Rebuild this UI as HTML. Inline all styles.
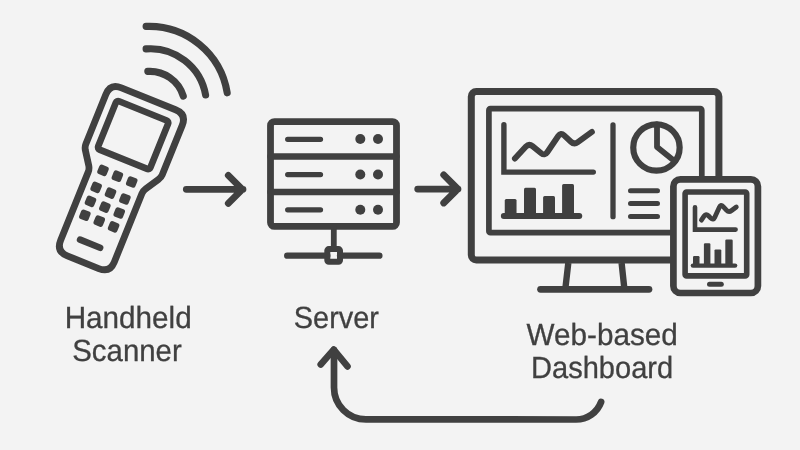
<!DOCTYPE html>
<html><head><meta charset="utf-8">
<style>
html,body{margin:0;padding:0;background:#f3f3f3;}
body{width:800px;height:450px;overflow:hidden;}
svg{display:block;will-change:transform;}
text{font-family:"Liberation Sans",sans-serif;fill:#404040;stroke:#404040;stroke-width:0.3px;text-rendering:geometricPrecision;}
</style></head>
<body>
<svg width="800" height="450" viewBox="0 0 800 450">
<rect width="800" height="450" fill="#f3f3f3"/>
<g fill="none" stroke="#404040" stroke-linecap="round" stroke-linejoin="round">

<!-- signal arcs -->
<path d="M146.1,26.4 A79,79 0 0 1 227.2,92.8" stroke-width="7.1"/>
<path d="M146.1,48.9 A56,56 0 0 1 205.6,95" stroke-width="7.1"/>
<path d="M147.8,71.4 A35,35 0 0 1 183.3,96.1" stroke-width="7.1"/>

<!-- handheld scanner -->
<g transform="translate(118.15,174.25) rotate(22)">
  <path d="M-41.3,-69.3 Q-41.3,-81.3 -29.3,-81.3 L29.1,-81.3 Q41.1,-81.3 41.1,-69.3 L41.1,-16 Q41.1,-13 39.3,-10.1 L31.1,3.1 Q29.3,6 29.3,9 L29.3,82.7 Q29.3,94.7 17.3,94.7 L-16.6,94.7 Q-28.6,94.7 -28.6,82.7 L-28.6,9 Q-28.6,6 -30.4,3.1 L-39.5,-10.1 Q-41.3,-13 -41.3,-16 Z" stroke-width="6.8"/>
  <rect x="-29" y="-68" width="56.4" height="52.2" rx="2.5" stroke-width="6.6"/>
  <g fill="#404040" stroke="none">
    <rect x="-20.5" y="-2.9" width="10" height="10" rx="2.5"/>
    <rect x="-5" y="-2.9" width="10" height="10" rx="2.5"/>
    <rect x="10.5" y="-2.9" width="10" height="10" rx="2.5"/>
    <rect x="-20.5" y="15.4" width="10" height="10" rx="2.5"/>
    <rect x="-5" y="15.4" width="10" height="10" rx="2.5"/>
    <rect x="10.5" y="15.4" width="10" height="10" rx="2.5"/>
    <rect x="-20.5" y="30.5" width="10" height="10" rx="2.5"/>
    <rect x="-5" y="30.5" width="10" height="10" rx="2.5"/>
    <rect x="10.5" y="30.5" width="10" height="10" rx="2.5"/>
    <rect x="-20.5" y="45.5" width="10" height="10" rx="2.5"/>
    <rect x="-5" y="45.5" width="10" height="10" rx="2.5"/>
    <rect x="10.5" y="45.5" width="10" height="10" rx="2.5"/>
  </g>
  <path d="M-10.8,74.9 L10.8,74.9" stroke-width="6.6"/>
</g>

<!-- arrow 1 -->
<path d="M186.3,189.3 L243,189.3 M228.3,175.3 L242.3,189.3 L228.3,203.3" stroke-width="6.8"/>

<!-- server -->
<rect x="270.5" y="121.6" width="126" height="104.8" rx="4" stroke-width="6.8"/>
<path d="M270.5,156.5 H396.5 M270.5,192 H396.5" stroke-width="6.4"/>
<path d="M287.7,139.3 H320.5 M287.7,174.6 H320.5 M287.7,209.8 H320.5" stroke-width="5.3"/>
<g fill="#404040" stroke="none">
  <circle cx="360.3" cy="139" r="5"/><circle cx="378" cy="139" r="5"/>
  <circle cx="360.3" cy="174.5" r="5"/><circle cx="378" cy="174.5" r="5"/>
  <circle cx="360.3" cy="209.8" r="5"/><circle cx="378" cy="209.8" r="5"/>
</g>
<path d="M333.8,226 V249" stroke-width="5.8" stroke-linecap="butt"/>
<path d="M287.2,255.7 H327.3 M340,255.7 H379.4" stroke-width="6.3"/>
<rect x="327.3" y="249.1" width="12.7" height="12.7" rx="1.5" stroke-width="6"/>

<!-- arrow 2 -->
<path d="M417.7,189.1 L458,189.1 M443.7,174.9 L457.8,189 L443.7,203" stroke-width="6.8"/>

<!-- monitor -->
<rect x="471.3" y="91.5" width="247.6" height="168.4" rx="5" stroke-width="7"/>
<rect x="488.9" y="108.7" width="212.9" height="124" rx="1.5" stroke-width="5.7"/>
<path d="M568.3,263 L565.3,289 M621.6,263 L624.4,289" stroke-width="6.4" stroke-linecap="butt"/>
<path d="M540.5,289.3 H649" stroke-width="6.7"/>
<!-- line chart -->
<path d="M503.9,124.8 V172.1 H593.3" stroke-width="5.4" stroke-linejoin="miter"/>
<path d="M514.90,158.60 L525.95,146.61 Q529.00,143.30 532.50,146.13 L541.20,153.17 Q544.70,156.00 547.23,152.28 L558.27,136.02 Q560.80,132.30 564.09,135.37 L570.91,141.73 Q574.20,144.80 577.84,142.15 L591.90,131.90" stroke-width="5.9"/>
<path d="M503.8,216 H579.3" stroke-width="5.9"/>
<g fill="#404040" stroke="none">
  <rect x="504.75" y="199" width="11.8" height="17" rx="1.5"/>
  <rect x="524" y="187.75" width="12" height="28" rx="1.5"/>
  <rect x="543.1" y="196" width="11.9" height="20" rx="1.5"/>
  <rect x="562.1" y="184" width="11.9" height="32" rx="1.5"/>
</g>
<path d="M613,125 V216.7" stroke-width="5.3"/>
<circle cx="656.45" cy="147.5" r="23.2" stroke-width="6.2"/>
<path d="M657,124.5 V147 L675,161.4" stroke-width="5.8"/>
<path d="M630.5,190.8 H657.5 M630.5,203.6 H657.5 M630.5,216.5 H657.5" stroke-width="5"/>

<!-- tablet -->
<rect x="673.4" y="179.4" width="84.5" height="113.6" rx="7" fill="#f3f3f3" stroke-width="6.7"/>
<rect x="685.1" y="192" width="61.6" height="83.9" rx="1.5" stroke-width="5.6"/>
<path d="M709.5,284.3 H721.3" stroke-width="5"/>
<path d="M695,207.2 V229.6 H735.6" stroke-width="4.6" stroke-linejoin="miter"/>
<path d="M701.40,220.10 L704.04,216.20 Q706.00,213.30 708.46,215.79 L710.74,218.11 Q713.20,220.60 714.66,217.42 L719.34,207.18 Q720.80,204.00 723.18,206.56 L726.42,210.04 Q728.80,212.60 731.60,210.51 L736.30,207.00" stroke-width="4.8"/>
<path d="M692.9,265.6 H735.1" stroke-width="4.4"/>
<g fill="#404040" stroke="none">
  <rect x="693" y="256.1" width="6.5" height="10" rx="1.2"/>
  <rect x="703.9" y="243.2" width="6.5" height="23" rx="1.2"/>
  <rect x="714.5" y="249.4" width="6.8" height="16" rx="1.2"/>
  <rect x="725.3" y="239.6" width="7.4" height="26" rx="1.2"/>
</g>

<!-- return arrow -->
<path d="M601.1,402 A26.6,26.6 0 0 1 576.1,419.5 L366,419.4 A32,32 0 0 1 334,387.4 L334,350" stroke-width="6.7"/>
<path d="M320.7,364.5 L333.7,349.6 L347.5,366.4" stroke-width="6.6"/>
</g>

<text x="128.2" y="328" font-size="30.6" text-anchor="middle" textLength="127" lengthAdjust="spacingAndGlyphs">Handheld</text>
<text x="127" y="360.8" font-size="30.6" text-anchor="middle" textLength="109.5" lengthAdjust="spacingAndGlyphs">Scanner</text>
<text x="336.4" y="328.2" font-size="30.6" text-anchor="middle" textLength="85.2" lengthAdjust="spacingAndGlyphs">Server</text>
<text x="602.2" y="345.2" font-size="30.6" text-anchor="middle" textLength="151.2" lengthAdjust="spacingAndGlyphs">Web-based</text>
<text x="602.1" y="377.6" font-size="30.6" text-anchor="middle" textLength="142.1" lengthAdjust="spacingAndGlyphs">Dashboard</text>
</svg>
</body></html>
